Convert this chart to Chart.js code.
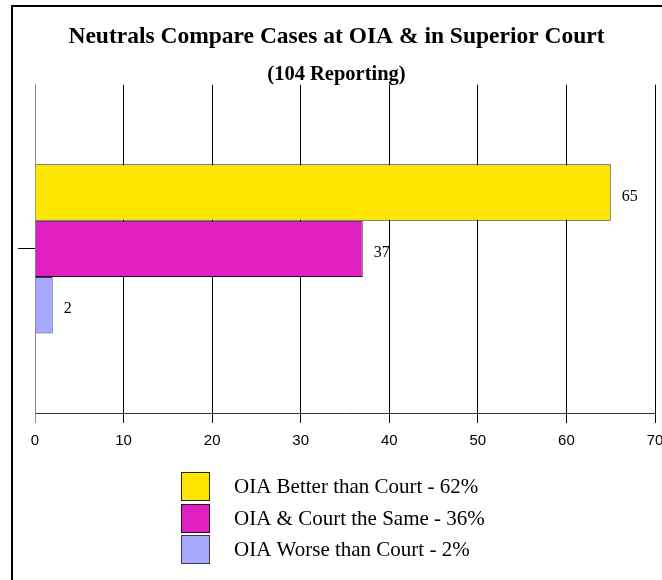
<!DOCTYPE html>
<html>
<head>
<meta charset="utf-8">
<script src="https://cdn.jsdelivr.net/npm/chart.js@4/dist/chart.umd.min.js"></script>
<style>
	html, body { margin: 0; padding: 0; background: #fff; overflow: hidden; }
	#wrap { position: relative; width: 662px; height: 580px; overflow: hidden; }
	#frame {
		position: absolute; left: 11px; top: 5px; width: 700px; height: 600px;
		border-left: 2px solid #000; border-top: 2px solid #000; pointer-events: none;
	}
	canvas { position: absolute; left: 0; top: 0; }
</style>
</head>
<body>
<div id="wrap">
	<canvas id="chart" width="680" height="580"></canvas>
	<div id="frame"></div>
</div>
<script>
const categories = [""];
const seriesLabels = [
	"OIA Better than Court - 62%",
	"OIA & Court the Same - 36%",
	"OIA Worse than Court - 2%"
];
const seriesValues = [65, 37, 2];
const seriesColors = ["#FFE600", "#E020C0", "#A8A8FF"];
const seriesBorders = ["#2a2400", "#2a0024", "#3a3a55"];
const xMin = 0, xMax = 70, xStep = 10;

const serif = "'Times New Roman', 'Liberation Serif', serif";
const sans = "Arial, 'Liberation Sans', sans-serif";

// value labels at the end of each bar
const barLabels = {
	id: "barLabels",
	afterDatasetsDraw(chart) {
		const c = chart.ctx;
		c.save();
		c.font = "16px " + serif;
		c.fillStyle = "#000";
		c.textAlign = "left";
		c.textBaseline = "middle";
		chart.data.datasets.forEach((ds, i) => {
			chart.getDatasetMeta(i).data.forEach((bar, j) => {
				c.fillText(String(ds.data[j]), bar.x + 11, bar.y + 4);
			});
		});
		c.restore();
	}
};

// stacked legend under the axis, one entry per line
const stackLegend = {
	id: "stackLegend",
	afterDraw(chart) {
		const c = chart.ctx;
		const boxX = 181, top = 472, box = 29, step = 31.5, textX = 234;
		c.save();
		c.font = "21px " + serif;
		c.textAlign = "left";
		c.textBaseline = "middle";
		chart.data.datasets.forEach((ds, i) => {
			const y = Math.round(top + i * step);
			c.fillStyle = ds.backgroundColor;
			c.fillRect(boxX, y, box, box);
			c.strokeStyle = ds.borderColor;
			c.lineWidth = 1;
			c.strokeRect(boxX + 0.5, y + 0.5, box - 1, box - 1);
			c.fillStyle = "#000";
			c.fillText(ds.label, textX, y + box / 2 + 1);
		});
		c.restore();
	}
};

new Chart(document.getElementById("chart"), {
	type: "bar",
	data: {
		labels: categories,
		datasets: seriesLabels.map((label, i) => ({
			label: label,
			data: [seriesValues[i]],
			backgroundColor: seriesColors[i],
			borderColor: seriesBorders[i],
			borderWidth: 1,
			categoryPercentage: 0.515,
			barPercentage: 1
		}))
	},
	options: {
		indexAxis: "y",
		responsive: false,
		animation: false,
		layout: { padding: { left: 18, right: 25, top: 0, bottom: 121 } },
		plugins: {
			legend: { display: false },
			tooltip: { enabled: false },
			title: {
				display: true,
				text: "Neutrals Compare Cases at OIA & in Superior Court",
				color: "#000",
				font: { family: serif, size: 23.5, weight: "bold", lineHeight: 1.2 },
				padding: { top: 23, bottom: 0 }
			},
			subtitle: {
				display: true,
				text: "(104 Reporting)",
				color: "#000",
				font: { family: serif, size: 20.5, weight: "bold", lineHeight: 1 },
				padding: { top: 13, bottom: 0 }
			}
		},
		scales: {
			x: {
				min: xMin,
				max: xMax,
				ticks: { stepSize: xStep, color: "#000", font: { family: sans, size: 15 }, padding: 9 },
				grid: {
					color: ctx => ctx.index === 0 ? "#888" : "#000",
					lineWidth: 1,
					tickLength: 10
				},
				border: { display: true, color: "#333" }
			},
			y: {
				offset: true,
				ticks: { display: false },
				grid: {
					drawOnChartArea: false,
					drawTicks: true,
					tickLength: 17,
					offset: false,
					color: "#000"
				},
				border: { display: true, color: "#888" }
			}
		}
	},
	plugins: [barLabels, stackLegend]
});
</script>
</body>
</html>
